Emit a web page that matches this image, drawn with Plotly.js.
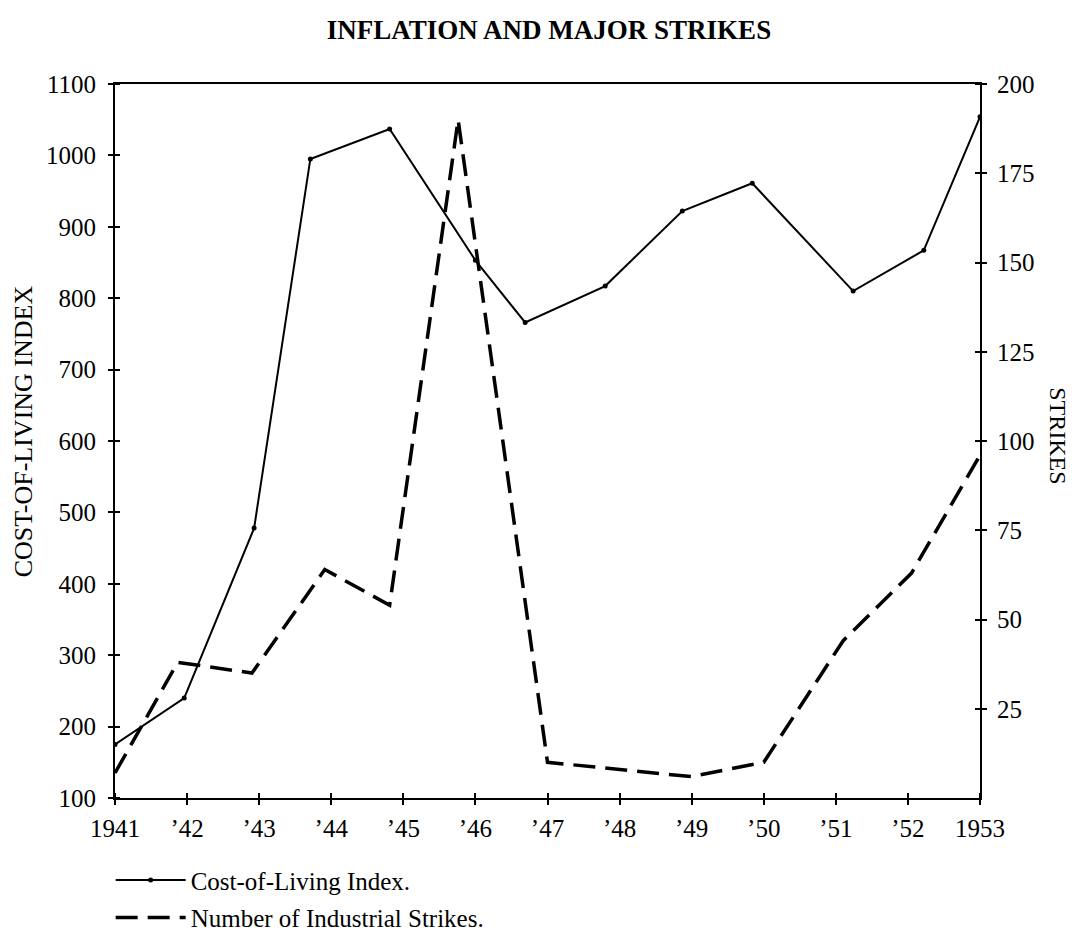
<!DOCTYPE html>
<html>
<head>
<meta charset="utf-8">
<script src="https://cdn.plot.ly/plotly-3.0.1.min.js"></script>
<style>html,body{margin:0;padding:0;background:#fff;}#chart{width:1074px;height:936px;}</style>
</head>
<body>
<div id="chart"></div>
<script>
// Cost-of-living index (left axis)
const colYears  = [1941, 1941.96, 1942.93, 1943.71, 1944.81, 1946.0, 1946.69, 1947.8, 1948.87, 1949.84, 1951.24, 1952.22, 1953];
const colValues = [175, 240, 478, 995, 1037, 853, 766, 817, 922, 961, 810, 867, 1054];

// Number of industrial strikes (right axis)
const strikeYears  = [1941, 1941.87, 1942.9, 1943.91, 1944.81, 1945.76, 1947.0, 1948.0, 1948.99, 1950.0, 1951.1, 1952.05, 1953];
const strikeValues = [7, 38, 35, 64, 54, 190, 10, 8, 6, 10, 44, 63, 96];

// Ticks
const yearTicks = [1941,1942,1943,1944,1945,1946,1947,1948,1949,1950,1951,1952,1953];
const yearLabels = ['1941','\u201942','\u201943','\u201944','\u201945','\u201946','\u201947','\u201948','\u201949','\u201950','\u201951','\u201952','1953'];
const colTicks = [100,200,300,400,500,600,700,800,900,1000,1100];
const strikeTicks = [25,50,75,100,125,150,175,200];

const FONT = 'Liberation Serif, Times New Roman, serif';

const traces = [
  {
    x: colYears, y: colValues, type: 'scatter', mode: 'lines+markers',
    name: 'Cost-of-Living Index.',
    line: {color: '#000', width: 2},
    marker: {color: '#000', size: 5},
    legendgroup: 'a',
    yaxis: 'y'
  },
  {
    x: strikeYears, y: strikeValues, type: 'scatter', mode: 'lines',
    name: 'Number of Industrial Strikes.',
    line: {color: '#000', width: 3.5, dash: '22px,10px'},
    legendgroup: 'b',
    yaxis: 'y2'
  }
];

const layout = {
  width: 1074, height: 936,
  paper_bgcolor: '#fff', plot_bgcolor: '#fff',
  margin: {l: 115, r: 94, t: 84, b: 138, autoexpand: false},
  font: {family: FONT, color: '#000', size: 25},
  title: {
    text: '<b>INFLATION AND MAJOR STRIKES</b>',
    font: {family: FONT, size: 27, color: '#000'},
    x: 549/1074, xanchor: 'center', y: 1 - 30/936, yanchor: 'middle', yref: 'container'
  },
  showlegend: true,
  legend: {
    orientation: 'v', x: -0.005, xanchor: 'left', y: -0.083, yanchor: 'top',
    font: {family: FONT, size: 25, color: '#000'},
    tracegroupgap: 2, traceorder: 'grouped', itemwidth: 70,
    bgcolor: 'rgba(0,0,0,0)'
  },
  xaxis: {
    range: [1941, 1953], tickmode: 'array', tickvals: yearTicks, ticktext: yearLabels,
    showgrid: false, zeroline: false, showline: true, linecolor: '#000', linewidth: 2,
    mirror: true, ticks: 'outside', ticklen: 5, tickwidth: 2, tickcolor: '#000',
    minor: {ticks: 'inside', tickmode: 'array', tickvals: yearTicks, ticklen: 5, tickwidth: 2, tickcolor: '#000', showgrid: false},
    tickfont: {family: FONT, size: 25}, ticklabelstandoff: 2, fixedrange: true
  },
  yaxis: {
    range: [100, 1100], tickmode: 'array', tickvals: colTicks,
    showgrid: false, zeroline: false, showline: true, linecolor: '#000', linewidth: 2,
    ticks: 'outside', ticklen: 5, tickwidth: 2, tickcolor: '#000',
    minor: {ticks: 'inside', tickmode: 'array', tickvals: colTicks, ticklen: 5, tickwidth: 2, tickcolor: '#000', showgrid: false},
    tickfont: {family: FONT, size: 25}, ticklabelstandoff: 7, fixedrange: true
  },
  yaxis2: {
    range: [0, 200], tickmode: 'array', tickvals: strikeTicks,
    overlaying: 'y', side: 'right',
    showgrid: false, zeroline: false, showline: true, linecolor: '#000', linewidth: 2,
    ticks: 'outside', ticklen: 5, tickwidth: 2, tickcolor: '#000',
    minor: {ticks: 'inside', tickmode: 'array', tickvals: strikeTicks, ticklen: 5, tickwidth: 2, tickcolor: '#000', showgrid: false},
    tickfont: {family: FONT, size: 25}, ticklabelstandoff: 5, fixedrange: true
  },
  annotations: [
    {text: 'COST-OF-LIVING INDEX', textangle: -90, xref: 'paper', yref: 'paper',
     x: -0.106, y: 0.514, xanchor: 'center', yanchor: 'middle', showarrow: false,
     font: {family: FONT, size: 26, color: '#000'}},
    {text: 'STRIKES', textangle: 90, xref: 'paper', yref: 'paper',
     x: 1.090, y: 0.507, xanchor: 'center', yanchor: 'middle', showarrow: false,
     font: {family: FONT, size: 24, color: '#000'}}
  ]
};

Plotly.newPlot('chart', traces, layout, {displayModeBar: false, staticPlot: true});
</script>
</body>
</html>
